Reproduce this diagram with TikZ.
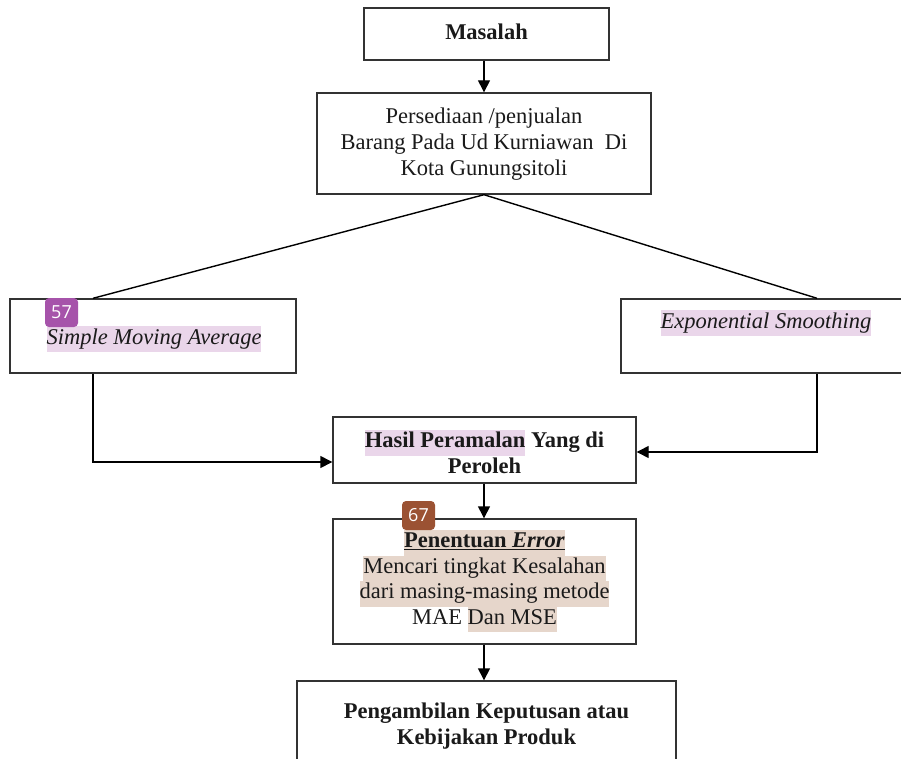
\documentclass[tikz,border=0pt]{standalone}
\usepackage{fontspec}
\setmainfont{Liberation Serif}
\newfontfamily\badgefont{Open Sans}
\usetikzlibrary{arrows.meta}
\definecolor{hlp}{HTML}{EAD6EA}
\definecolor{hlb}{HTML}{E6D6CB}
\definecolor{bdgp}{HTML}{A653AA}
\definecolor{bdgb}{HTML}{9B5233}
\definecolor{txt}{HTML}{1A1A1A}
\newcommand{\hlP}[1]{{\setlength{\fboxsep}{0pt}\colorbox{hlp}{\strut #1}}}
\newcommand{\hlB}[1]{{\setlength{\fboxsep}{0pt}\colorbox{hlb}{\strut #1}}}
\tikzset{
  box/.style={draw=black!80, line width=1.4pt, rectangle, inner sep=0pt},
  txtnode/.style={align=center, inner sep=0pt, text=txt,
    font=\fontsize{22.5}{26}\selectfont},
  conn/.style={line width=1.4pt, draw=black},
  arr/.style={conn, -{Triangle[length=12pt,width=12pt]}},
  badge/.style={rectangle, rounded corners=4pt, minimum width=33pt,
    minimum height=29pt, inner sep=0pt, text=white,
    font=\badgefont\fontsize{18}{20}\selectfont}
}
\begin{document}
\begin{tikzpicture}[x=1pt,y=-1pt]
\clip (0,0) rectangle (901,759);
\fill[white] (0,0) rectangle (901,759);

% boxes
\node[box, minimum width=245pt, minimum height=52pt] (masalah) at (486.5,34) {};
\node[box, minimum width=334pt, minimum height=101pt] (pers) at (484,143.5) {};
\node[box, minimum width=286pt, minimum height=74pt] (sma) at (153,336) {};
\node[box, minimum width=286pt, minimum height=74pt] (es) at (764,336) {};
\node[box, minimum width=303pt, minimum height=66pt] (hasil) at (484.5,450) {};
\node[box, minimum width=303pt, minimum height=125pt] (pen) at (484.5,581.5) {};
\node[box, minimum width=379pt, minimum height=100pt] (peng) at (486.5,731) {};

% texts
\node[txtnode] (tmasalah) at (486.5,32) {\textbf{Masalah}};
\node[txtnode] (tpers) at (484,144) {Persediaan /penjualan\\Barang Pada Ud Kurniawan\ \ Di\\Kota Gunungsitoli};
\node[txtnode] (tsma) at (154,339) {\hlP{\textit{Simple Moving Average}}};
\node[txtnode] (tes) at (766,323) {\hlP{\textit{Exponential Smoothing}}};
\node[txtnode] (thasil) at (484.5,452) {\textbf{\hlP{Hasil Peramalan} Yang di}\\\textbf{Peroleh}};
\node[txtnode, font=\fontsize{22.5}{25.5}\selectfont] (tpen) at (484.5,581) {\hlB{\textbf{\underline{Penentuan \textit{Error}}}}\\\hlB{Mencari tingkat Kesalahan}\\\hlB{dari masing-masing metode}\\MAE \hlB{Dan MSE}};
\node[txtnode] (tpeng) at (486.5,726) {\textbf{Pengambilan Keputusan atau}\\\textbf{Kebijakan Produk}};

% badges
\node[badge, fill=bdgp] (b57) at (61.5,312.5) {57};
\node[badge, fill=bdgb] (b67) at (418.5,515.5) {67};

% connectors
\draw[arr] ([xshift=-2.5pt]masalah.south) -- (pers.north);
\draw[conn] (pers.south) -- ([xshift=-60pt]sma.north);
\draw[conn] (pers.south) -- ([xshift=53pt]es.north);
\draw[arr] ([xshift=-60pt]sma.south) |- ([yshift=-12pt]hasil.west);
\draw[arr] ([xshift=53pt]es.south) |- ([yshift=-2pt]hasil.east);
\draw[arr] ([xshift=-0.5pt]hasil.south) -- ([xshift=-0.5pt]pen.north);
\draw[arr] ([xshift=-0.5pt]pen.south) -- ([xshift=-2.5pt]peng.north);
\end{tikzpicture}
\end{document}
